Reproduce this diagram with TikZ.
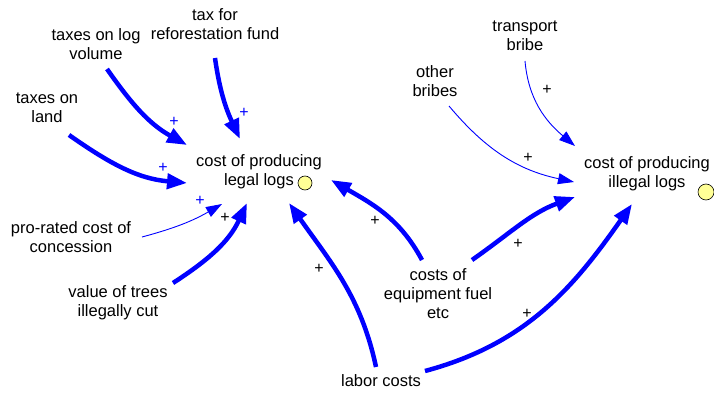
\documentclass[tikz,border=0pt]{standalone}
\usepackage{fontspec}
\setmainfont{Liberation Sans}
\usetikzlibrary{arrows.meta}
\definecolor{lnk}{RGB}{0,0,255}
\definecolor{pale}{RGB}{255,255,150}
\tikzset{
  lbl/.style={font=\fontsize{16.5}{19}\selectfont, align=center, inner sep=0pt},
  thk/.style={draw=lnk, line width=4.5pt, -{Triangle[length=20pt,width=15pt]}},
  thn/.style={draw=lnk, line width=0.9pt, -{Triangle[length=16pt,width=11pt]}},
  pb/.style={text=lnk, font=\fontsize{16}{16}\selectfont, inner sep=0pt},
  pk/.style={text=black, font=\fontsize{16}{16}\selectfont, inner sep=0pt},
  dot/.style={circle, draw=black, line width=0.6pt, fill=pale, inner sep=0pt}
}
\begin{document}
\begin{tikzpicture}[x=1pt,y=1pt]
\useasboundingbox (0,0) rectangle (714,394);
\node[lbl] (logvol) at (96,350) {taxes on log\\volume};
\node[lbl] (refor) at (215,370) {tax for\\reforestation fund};
\node[lbl] (land) at (47,286) {taxes on\\land};
\node[lbl] (legal) at (259,222) {cost of producing\\legal logs};
\node[lbl] (prorated) at (71,157) {pro-rated cost of\\concession};
\node[lbl] (trees) at (118,91) {value of trees\\illegally cut};
\node[lbl] (labor) at (381,13) {labor costs};
\node[lbl] (equip) at (438,100) {costs of\\equipment fuel\\etc};
\node[lbl] (other) at (435,313) {other\\bribes};
\node[lbl] (transport) at (525,358) {transport\\bribe};
\node[lbl] (illegal) at (647,220) {cost of producing\\illegal logs};
\node[dot, minimum size=14pt] (c1) at (305,211) {};
\node[dot, minimum size=16pt] (c2) at (706,202) {};

\draw[thk] ([shift={(11,-25)}]logvol.center) to[out=-55,in=151] ([shift={(-72,27)}]legal.center);
\draw[thk] ([shift={(0,-34)}]refor.center) to[out=-82,in=115] ([shift={(-19,33)}]legal.center);
\draw[thk] ([shift={(22,-27)}]land.center) to[out=-35,in=175] ([shift={(-72,-11)}]legal.center);
\draw[thn] ([shift={(71,0)}]prorated.center) to[out=15,in=-150] ([shift={(-37,-32)}]legal.center);
\draw[thk] ([shift={(55,20)}]trees.center) to[out=33,in=-115] ([shift={(-12,-31)}]legal.center);
\draw[thk] ([shift={(-5,14)}]labor.center) to[out=102,in=-55] ([shift={(30,-31)}]legal.center);
\draw[thk] ([shift={(-16,34)}]equip.center) to[out=118,in=-30] ([shift={(72,-8)}]legal.center);
\draw[thk] ([shift={(34,34)}]equip.center) to[out=35,in=-160] ([shift={(-72,-23)}]illegal.center);
\draw[thk] ([shift={(44,10)}]labor.center) to[out=15,in=-125] ([shift={(-15,-30)}]illegal.center);
\draw[thn] ([shift={(14,-25)}]other.center) to[out=-50,in=168] ([shift={(-73,-8)}]illegal.center);
\draw[thn] ([shift={(0,-25)}]transport.center) to[out=-85,in=140] ([shift={(-72,28)}]illegal.center);

\node[pb] (p1) at (174,272) {+};
\node[pb] (p2) at (244,281) {+};
\node[pb] (p3) at (163,226) {+};
\node[pb] (p4) at (200,193) {+};
\node[pk] (p5) at (225,176) {+};
\node[pk] (p6) at (319,125) {+};
\node[pk] (p7) at (375,173) {+};
\node[pk] (p8) at (518,150) {+};
\node[pk] (p9) at (527,80) {+};
\node[pk] (p10) at (528,236) {+};
\node[pk] (p11) at (547,304) {+};
\end{tikzpicture}
\end{document}
